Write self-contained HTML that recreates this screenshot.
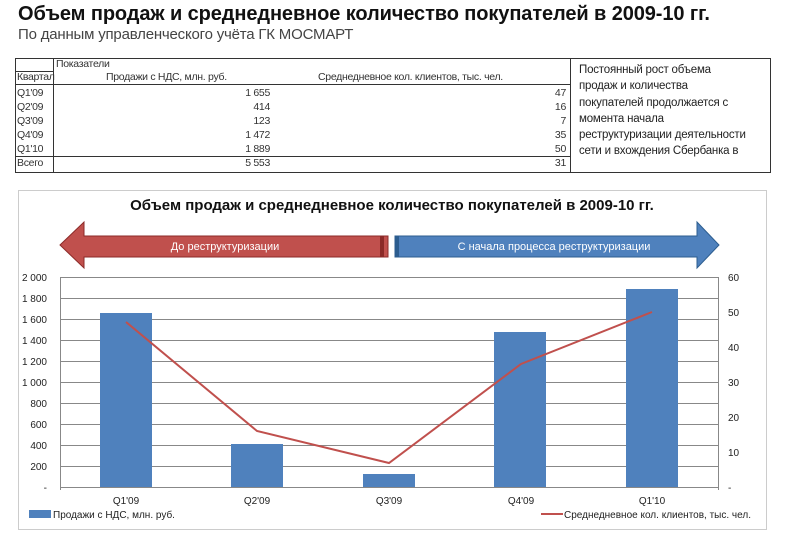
<!DOCTYPE html>
<html><head><meta charset="utf-8"><style>
body{margin:0;width:800px;height:533px;background:#fff;font-family:"Liberation Sans",sans-serif;position:relative;overflow:hidden}
.a{position:absolute;white-space:nowrap}
.t{font-size:10.5px;color:#333;letter-spacing:-0.3px}
</style></head><body>
<div class="a" style="left:18px;top:3px;font-size:20px;font-weight:bold;color:#111;letter-spacing:-0.1px">Объем продаж и среднедневное количество покупателей в 2009-10 гг.</div>
<div class="a" style="left:18px;top:26px;font-size:15px;color:#444;letter-spacing:-0.2px">По данным управленческого учёта ГК МОСМАРТ</div>
<svg class="a" style="left:0;top:0" width="800" height="533">
<g stroke="#333" stroke-width="1" fill="none">
<rect x="15.5" y="58.5" width="755" height="114"/>
<line x1="570.5" y1="58" x2="570.5" y2="172"/>
<line x1="53.5" y1="58" x2="53.5" y2="172"/>
<line x1="15" y1="71.5" x2="53" y2="71.5"/>
<line x1="15" y1="84.5" x2="570" y2="84.5"/>
<line x1="15" y1="156.5" x2="570" y2="156.5"/>
</g>
<rect x="18.5" y="190.5" width="748" height="339" fill="none" stroke="#ccc"/>
</svg>
<div class="a t" style="left:56px;top:58px">Показатели</div>
<div class="a t" style="left:17px;top:71px">Квартал</div>
<div class="a t" style="left:106px;top:71px">Продажи с НДС, млн. руб.</div>
<div class="a t" style="left:318px;top:71px">Среднедневное кол. клиентов, тыс. чел.</div>
<div class="a t" style="left:17px;top:86px;line-height:14px">Q1'09<br>Q2'09<br>Q3'09<br>Q4'09<br>Q1'10</div>
<div class="a t" style="left:17px;top:157px">Всего</div>
<div class="a t" style="left:200px;width:70px;text-align:right;top:86px;line-height:14px">1 655<br>414<br>123<br>1 472<br>1 889</div>
<div class="a t" style="left:200px;width:70px;text-align:right;top:157px">5 553</div>
<div class="a t" style="left:500px;width:66px;text-align:right;top:86px;line-height:14px">47<br>16<br>7<br>35<br>50</div>
<div class="a t" style="left:500px;width:66px;text-align:right;top:157px">31</div>
<div class="a" style="left:579px;top:62px;font-size:11.5px;line-height:16.3px;color:#222;letter-spacing:-0.2px">Постоянный рост объема<br>продаж и количества<br>покупателей продолжается с<br>момента начала<br>реструктуризации деятельности<br>сети и вхождения Сбербанка в</div>
<svg class="a" style="left:0;top:0" width="800" height="533" font-family="Liberation Sans, sans-serif">
<text x="392" y="210" font-size="15" font-weight="bold" text-anchor="middle" fill="#111">Объем продаж и среднедневное количество покупателей в 2009-10 гг.</text>
<polygon points="60,245 84,222 84,236 388,236 388,257 84,257 84,268" fill="#c0504d" stroke="#8b2a28"/>
<rect x="380" y="236" width="4" height="21" fill="#8b2a28"/>
<text x="225" y="250" font-size="11" fill="#fff" text-anchor="middle">До реструктуризации</text>
<polygon points="395,236 697,236 697,222 719,245 697,268 697,257 395,257" fill="#4f81bd" stroke="#2c5d8f"/>
<rect x="395" y="236" width="4" height="21" fill="#2c5d8f"/>
<text x="554" y="250" font-size="11" fill="#fff" text-anchor="middle">С начала процесса реструктуризации</text>
<g stroke="#888" stroke-width="1">
<line x1="60" y1="277.5" x2="718" y2="277.5"/><line x1="60" y1="298.5" x2="718" y2="298.5"/>
<line x1="60" y1="319.5" x2="718" y2="319.5"/><line x1="60" y1="340.5" x2="718" y2="340.5"/>
<line x1="60" y1="361.5" x2="718" y2="361.5"/><line x1="60" y1="382.5" x2="718" y2="382.5"/>
<line x1="60" y1="403.5" x2="718" y2="403.5"/><line x1="60" y1="424.5" x2="718" y2="424.5"/>
<line x1="60" y1="445.5" x2="718" y2="445.5"/><line x1="60" y1="466.5" x2="718" y2="466.5"/>
<line x1="60" y1="487.5" x2="718" y2="487.5"/>
<line x1="60.5" y1="277" x2="60.5" y2="490"/><line x1="718.5" y1="277" x2="718.5" y2="490"/>
</g>
<g fill="#4f81bd">
<rect x="100" y="313" width="52" height="174"/>
<rect x="231" y="444" width="52" height="43"/>
<rect x="363" y="474" width="52" height="13"/>
<rect x="494" y="332" width="52" height="155"/>
<rect x="626" y="289" width="52" height="198"/>
</g>
<polyline points="126,322 257,431 389,463 521,364 652,312" fill="none" stroke="#c0504d" stroke-width="2"/>
<g font-size="10" fill="#222" text-anchor="end">
<text x="47" y="281">2 000</text><text x="47" y="302">1 800</text><text x="47" y="323">1 600</text>
<text x="47" y="344">1 400</text><text x="47" y="365">1 200</text><text x="47" y="386">1 000</text>
<text x="47" y="407">800</text><text x="47" y="428">600</text><text x="47" y="449">400</text>
<text x="47" y="470">200</text><text x="47" y="491">-</text>
</g>
<g font-size="10" fill="#222">
<text x="728" y="281">60</text><text x="728" y="316">50</text><text x="728" y="351">40</text>
<text x="728" y="386">30</text><text x="728" y="421">20</text><text x="728" y="456">10</text><text x="728" y="491">-</text>
</g>
<g font-size="10" fill="#222" text-anchor="middle">
<text x="126" y="504">Q1'09</text><text x="257" y="504">Q2'09</text><text x="389" y="504">Q3'09</text>
<text x="521" y="504">Q4'09</text><text x="652" y="504">Q1'10</text>
</g>
<rect x="29" y="510" width="22" height="8" fill="#4f81bd"/>
<text x="53" y="518" font-size="10" fill="#222">Продажи с НДС, млн. руб.</text>
<line x1="541" y1="514" x2="563" y2="514" stroke="#c0504d" stroke-width="2"/>
<text x="564" y="518" font-size="10" fill="#222">Среднедневное кол. клиентов, тыс. чел.</text>
</svg>
</body></html>
